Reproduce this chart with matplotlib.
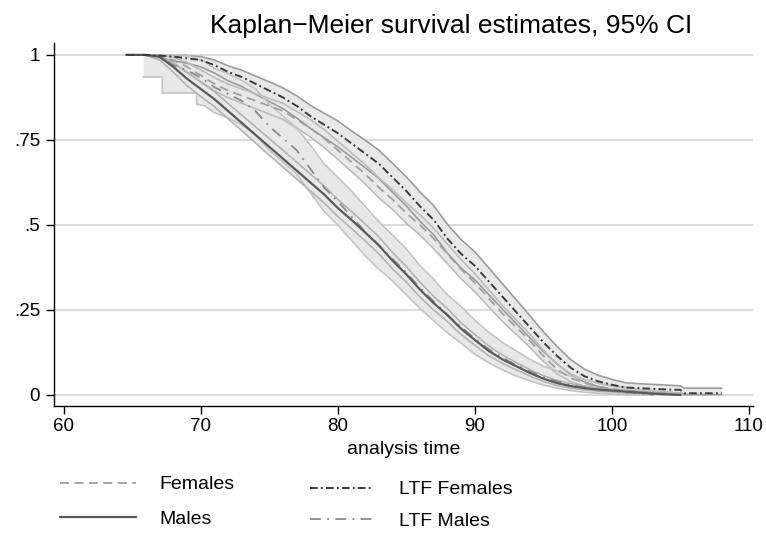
import matplotlib
matplotlib.use("Agg")
import matplotlib.pyplot as plt

plt.rcParams['font.family'] = ['Liberation Sans', 'DejaVu Sans']

# ---------------- data ----------------
yrs = [67, 68, 69, 70, 71, 72, 73, 74, 75, 76, 77, 78, 79, 80, 81, 82, 83, 84, 85, 86,
       87, 88, 89, 90, 91, 92, 93, 94, 95, 96, 97, 98, 99, 100, 101, 102, 103, 104, 105]

# Males
t_m = [64.6, 66] + yrs
s_m = [1, 1, 0.995, 0.965, 0.93, 0.90, 0.87, 0.835, 0.80, 0.765, 0.73, 0.695,
       0.66, 0.625, 0.59, 0.55, 0.515, 0.478, 0.44, 0.395, 0.355, 0.31,
       0.27, 0.235, 0.195, 0.162, 0.13, 0.105, 0.085, 0.065, 0.048, 0.035,
       0.026, 0.02, 0.016, 0.013, 0.01, 0.007, 0.004, 0.002, 0.0]
lo_m = [1, 1, 0.985, 0.95, 0.91, 0.878, 0.848, 0.812, 0.777, 0.741, 0.705, 0.67,
        0.635, 0.60, 0.565, 0.525, 0.49, 0.453, 0.415, 0.371, 0.332, 0.288,
        0.25, 0.216, 0.178, 0.146, 0.116, 0.093, 0.074, 0.056, 0.04, 0.028,
        0.02, 0.015, 0.011, 0.009, 0.006, 0.004, 0.002, 0.001, 0.0]
hi_m = [1, 1, 1.0, 0.978, 0.948, 0.92, 0.892, 0.857, 0.823, 0.789, 0.754, 0.72,
        0.685, 0.65, 0.615, 0.575, 0.54, 0.503, 0.465, 0.419, 0.378, 0.332,
        0.29, 0.254, 0.212, 0.178, 0.145, 0.118, 0.096, 0.075, 0.057, 0.043,
        0.033, 0.026, 0.021, 0.018, 0.014, 0.011, 0.008, 0.005, 0.002]

# LTF Males
t_lm = [65.8, 67.2, 67.2, 68, 69, 69.7, 69.7, 70.3,
        71, 72, 73, 74, 75, 76, 77, 78, 79, 80, 81, 82, 83, 84, 85, 86, 87, 88, 89, 90,
        91, 92, 93, 94, 95, 96, 97, 98, 99, 100, 101, 102, 103]
s_lm = [1, 0.99, 0.99, 0.97, 0.955, 0.94, 0.94, 0.925,
        0.905, 0.885, 0.865, 0.835, 0.79, 0.755, 0.72, 0.665, 0.61, 0.57,
        0.525, 0.48, 0.44, 0.40, 0.36, 0.315, 0.275, 0.235, 0.2, 0.165,
        0.135, 0.11, 0.088, 0.07, 0.052, 0.04, 0.03, 0.022, 0.016, 0.012,
        0.008, 0.005, 0.0]
lo_lm = [0.935, 0.935, 0.888, 0.888, 0.888, 0.888, 0.855, 0.85,
         0.83, 0.815, 0.795, 0.765, 0.72, 0.685, 0.65, 0.595, 0.54, 0.50,
         0.455, 0.41, 0.37, 0.335, 0.295, 0.255, 0.218, 0.183, 0.152, 0.12,
         0.095, 0.074, 0.056, 0.042, 0.029, 0.02, 0.013, 0.008, 0.005, 0.003,
         0.001, 0.0, 0.0]
hi_lm = [1, 1, 1, 1, 1, 0.99, 0.99, 0.98,
         0.96, 0.945, 0.925, 0.9, 0.855, 0.82, 0.785, 0.735, 0.68, 0.64,
         0.6, 0.555, 0.51, 0.47, 0.43, 0.38, 0.34, 0.295, 0.26, 0.22,
         0.185, 0.155, 0.13, 0.105, 0.085, 0.07, 0.055, 0.045, 0.035, 0.028,
         0.022, 0.015, 0.01]

# Females
t_f = [64.6, 66] + yrs
s_f = [1, 1, 0.995, 0.985, 0.965, 0.94, 0.915, 0.895, 0.88, 0.865, 0.85, 0.835,
       0.81, 0.785, 0.755, 0.72, 0.685, 0.65, 0.61, 0.575, 0.535, 0.50,
       0.46, 0.415, 0.37, 0.33, 0.285, 0.24, 0.2, 0.16, 0.115, 0.075,
       0.05, 0.035, 0.025, 0.018, 0.013, 0.01, 0.007, 0.005, 0.0]
lo_f = [1, 1, 0.988, 0.974, 0.95, 0.922, 0.895, 0.874, 0.858, 0.842, 0.826, 0.81,
        0.785, 0.759, 0.728, 0.693, 0.657, 0.621, 0.58, 0.545, 0.505, 0.47,
        0.43, 0.386, 0.342, 0.303, 0.26, 0.217, 0.179, 0.141, 0.099, 0.062,
        0.039, 0.026, 0.017, 0.011, 0.007, 0.005, 0.003, 0.001, 0.0]
hi_f = [1, 1, 1, 0.993, 0.978, 0.956, 0.933, 0.914, 0.9, 0.886, 0.872, 0.858,
        0.834, 0.81, 0.781, 0.746, 0.712, 0.678, 0.639, 0.604, 0.565, 0.53,
        0.49, 0.444, 0.398, 0.357, 0.31, 0.264, 0.222, 0.18, 0.132, 0.09,
        0.062, 0.045, 0.034, 0.026, 0.02, 0.016, 0.012, 0.009, 0.005]

# LTF Females
t_lf = [64.6, 66] + yrs + [105.3, 108]
s_lf = [1, 1, 0.998, 0.995, 0.99, 0.985, 0.97, 0.95, 0.935, 0.915, 0.895, 0.875,
        0.85, 0.82, 0.795, 0.77, 0.74, 0.71, 0.68, 0.64, 0.60, 0.555,
        0.515, 0.46, 0.415, 0.38, 0.335, 0.29, 0.245, 0.2, 0.155, 0.115,
        0.08, 0.055, 0.04, 0.03, 0.022, 0.02, 0.018, 0.016, 0.015, 0.005, 0.005]
lo_lf = [1, 1, 0.99, 0.983, 0.975, 0.965, 0.947, 0.924, 0.907, 0.885, 0.863, 0.842,
         0.815, 0.784, 0.757, 0.73, 0.699, 0.668, 0.637, 0.596, 0.556, 0.511,
         0.471, 0.417, 0.373, 0.339, 0.296, 0.253, 0.211, 0.169, 0.128, 0.091,
         0.06, 0.038, 0.025, 0.017, 0.011, 0.009, 0.008, 0.007, 0.006, 0.001, 0.001]
hi_lf = [1, 1, 1, 1, 0.998, 0.995, 0.985, 0.968, 0.955, 0.938, 0.921, 0.903,
         0.88, 0.852, 0.829, 0.806, 0.777, 0.749, 0.72, 0.681, 0.642, 0.597,
         0.557, 0.502, 0.457, 0.421, 0.375, 0.328, 0.281, 0.234, 0.186, 0.143,
         0.104, 0.076, 0.058, 0.046, 0.036, 0.033, 0.031, 0.029, 0.027, 0.02, 0.02]

x_ticks = [60, 70, 80, 90, 100, 110]
y_ticks = [0, 0.25, 0.5, 0.75, 1]
y_labels = ["0", ".25", ".5", ".75", "1"]
labels = ["Females", "Males", "LTF Females", "LTF Males"]

# ---------------- figure ----------------
fig = plt.figure(figsize=(7.66, 5.58), dpi=100)
ax = fig.add_axes([54 / 766, 1 - 405.5 / 558, 699 / 766, 362.5 / 558])

fill_c = "#e8e8e8"
groups = [
    (t_lf, lo_lf, hi_lf, "#9c9c9c"),
    (t_f, lo_f, hi_f, "#bcbcbc"),
    (t_lm, lo_lm, hi_lm, "#c4c4c4"),
    (t_m, lo_m, hi_m, "#b4b4b4"),
]
for t, lo, hi, ec in groups:
    ax.fill_between(t, lo, hi, color=fill_c, lw=0, zorder=2)
for t, lo, hi, ec in groups:
    ax.plot(t, lo, color=ec, lw=1.2, zorder=3, solid_joinstyle="miter")
    ax.plot(t, hi, color=ec, lw=1.2, zorder=3, solid_joinstyle="miter")

l_f, = ax.plot(t_f, s_f, color="#a0a0a0", lw=1.3, dashes=(5, 3), zorder=4)
l_m, = ax.plot(t_m, s_m, color="#5a5a5a", lw=1.6, zorder=5)
l_lf, = ax.plot(t_lf, s_lf, color="#3c3c3c", lw=1.4, dashes=(4, 1.6, 1, 1.6), zorder=5)
l_lm, = ax.plot(t_lm, s_lm, color="#8a8a8a", lw=1.3, dashes=(6, 3.5, 1, 3.5), zorder=4)

ax.set_xlim(59.3, 110.3)
ax.set_ylim(-0.031, 1.035)
ax.set_xticks(x_ticks)
ax.set_yticks(y_ticks)
ax.set_yticklabels(y_labels)
ax.yaxis.grid(True, color="#dcdcdc", lw=1.4, zorder=0)
ax.set_axisbelow(True)
for s in ["top", "right"]:
    ax.spines[s].set_visible(False)
for s in ["left", "bottom"]:
    ax.spines[s].set_linewidth(1.0)
ax.tick_params(axis="both", direction="out", length=6, width=1.0, labelsize=13.5)
ax.tick_params(axis="y", pad=4)
ax.tick_params(axis="x", pad=3)
ax.set_xlabel("analysis time", fontsize=14, labelpad=4)
fig.text(451 / 766, 1 - 26 / 558, "Kaplan\u2212Meier survival estimates, 95% CI",
         ha="center", va="center", fontsize=19)

leg1 = fig.legend([l_f, l_m], labels[:2], frameon=False,
                  loc="upper left", bbox_to_anchor=(52 / 766, 1 - 468 / 558),
                  fontsize=14, handlelength=3.9, handletextpad=1.2,
                  labelspacing=0.85, borderaxespad=0)
leg2 = fig.legend([l_lf, l_lm], labels[2:], frameon=False,
                  loc="upper left", bbox_to_anchor=(302 / 766, 1 - 473 / 558),
                  fontsize=14, handlelength=3.2, handletextpad=1.4,
                  labelspacing=0.7, borderaxespad=0)

fig.savefig("out.png", dpi=100)
